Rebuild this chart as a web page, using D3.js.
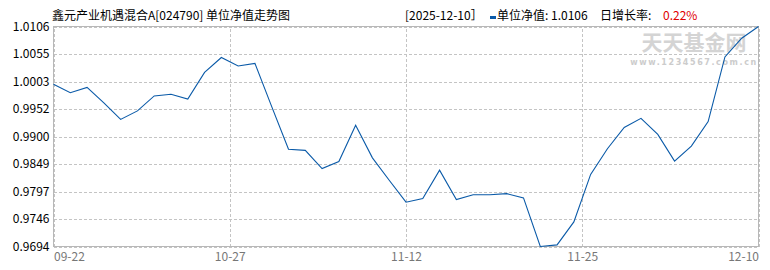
<!DOCTYPE html>
<html>
<head>
<meta charset="utf-8">
<script src="https://cdn.jsdelivr.net/npm/d3@7"></script>
<style>
  body { margin: 0; background: #fff; }
  text { font-family: "Noto Sans CJK SC", sans-serif; }
</style>
</head>
<body>
<div id="chart"></div>
<script>
// NAV values, one per published day
var navValues = [
  0.9998, 0.9982, 0.9992, 0.9963, 0.9932, 0.9948, 0.9976, 0.9979, 0.9970, 1.0020,
  1.0048, 1.0032, 1.0037, 0.9956, 0.9876, 0.9874, 0.9840, 0.9853, 0.9921, 0.9860,
  0.9818, 0.9777, 0.9784, 0.9837, 0.9782, 0.9791, 0.9791, 0.9793, 0.9785, 0.9694,
  0.9697, 0.9740, 0.9829, 0.9877, 0.9917, 0.9934, 0.9904, 0.9854, 0.9882, 0.9928,
  1.0049, 1.0084, 1.0106
];
var xTickLabels = ["09-22", "10-27", "11-12", "11-25", "12-10"];
var yTickLabels = ["0.9694", "0.9746", "0.9797", "0.9849", "0.9900", "0.9952", "1.0003", "1.0055", "1.0106"];

var titleText = "鑫元产业机遇混合A[024790] 单位净值走势图";
var lastDate = "[2025-12-10］";
var lastNav = "1.0106";
var lastGrowth = "0.22%";

function main() {
    var width = 770, height = 270;
    var left = 53.5, right = 758.5, top = 26.5, bottom = 246.5;

    var svg = d3.select("#chart").append("svg")
        .attr("width", width)
        .attr("height", height);

    var yMin = d3.min(navValues), yMax = d3.max(navValues);
    var xScale = d3.scaleLinear().domain([0, navValues.length - 1]).range([left, right]);
    var yScale = d3.scaleLinear().domain([yMin, yMax]).range([bottom, top]);

    var yTicks = d3.range(yTickLabels.length).map(function(i) {
        return yMin + i * (yMax - yMin) / (yTickLabels.length - 1);
    });
    var xTicks = d3.range(xTickLabels.length).map(function(i) {
        return i * (navValues.length - 1) / (xTickLabels.length - 1);
    });

    // watermark
    svg.append("text")
        .attr("x", 694).attr("y", 50)
        .attr("text-anchor", "middle")
        .style("font-size", "21px")
        .style("font-weight", "bold")
        .style("fill", "#d4d4d4")
        .text("天天基金网");
    svg.append("text")
        .attr("x", 694).attr("y", 64.5)
        .attr("text-anchor", "middle")
        .style("font-family", "DejaVu Sans, sans-serif")
        .style("font-size", "8px")
        .style("font-weight", "bold")
        .style("fill", "#cccccc")
        .style("letter-spacing", "1.6px")
        .text("www.1234567.com.cn");

    // grid
    var yAxis = d3.axisLeft(yScale)
        .tickValues(yTicks)
        .tickSize(-(right - left))
        .tickPadding(4)
        .tickFormat(function(d, i) { return yTickLabels[i]; });
    var gy = svg.append("g")
        .attr("transform", "translate(" + left + ",0)")
        .call(yAxis);
    gy.select(".domain").remove();
    gy.selectAll(".tick line")
        .attr("stroke", "#c4c4c4")
        .attr("stroke-dasharray", "3,2")
        .attr("shape-rendering", "crispEdges");
    gy.selectAll(".tick text")
        .style("font-size", "12px")
        .style("fill", "#000")
        .attr("x", -4);

    var xAxis = d3.axisBottom(xScale)
        .tickValues(xTicks)
        .tickSize(-(bottom - top))
        .tickPadding(6)
        .tickFormat(function(d, i) { return xTickLabels[i]; });
    var gx = svg.append("g")
        .attr("transform", "translate(0," + bottom + ")")
        .call(xAxis);
    gx.select(".domain").remove();
    gx.selectAll(".tick line")
        .attr("stroke", "#c4c4c4")
        .attr("stroke-dasharray", "3,2")
        .attr("shape-rendering", "crispEdges");
    gx.selectAll(".tick text")
        .style("font-size", "12px")
        .style("fill", "#777")
        .attr("text-anchor", function(d, i) {
            if (i === 0) return "start";
            if (i === xTickLabels.length - 1) return "end";
            return "middle";
        });

    // frame
    svg.append("rect")
        .attr("x", left).attr("y", top)
        .attr("width", right - left).attr("height", bottom - top)
        .attr("fill", "none")
        .attr("stroke", "#b8b8b8")
        .attr("shape-rendering", "crispEdges");

    var line = d3.line()
        .x(function(d, i) { return xScale(i); })
        .y(function(d) { return yScale(d); });

    svg.append("path")
        .datum(navValues)
        .attr("d", line)
        .attr("fill", "none")
        .attr("stroke", "#0a5aa8")
        .attr("stroke-width", 1.1);

    // header
    svg.append("text")
        .attr("x", 52).attr("y", 20)
        .style("font-size", "12px")
        .style("fill", "#000")
        .text(titleText);

    svg.append("text")
        .attr("x", 405).attr("y", 20)
        .style("font-size", "12px")
        .style("fill", "#000")
        .text(lastDate);

    svg.append("rect")
        .attr("x", 490).attr("y", 16)
        .attr("width", 6).attr("height", 3)
        .attr("fill", "#0a5aa8");

    svg.append("text")
        .attr("x", 497).attr("y", 20)
        .style("font-size", "12px")
        .style("fill", "#000")
        .text("单位净值: " + lastNav);

    svg.append("text")
        .attr("x", 600).attr("y", 20)
        .style("font-size", "12px")
        .style("fill", "#000")
        .text("日增长率: ");

    svg.append("text")
        .attr("x", 663).attr("y", 20)
        .style("font-size", "12px")
        .style("fill", "#e00000")
        .text(lastGrowth);
}

main();
</script>
</body>
</html>
